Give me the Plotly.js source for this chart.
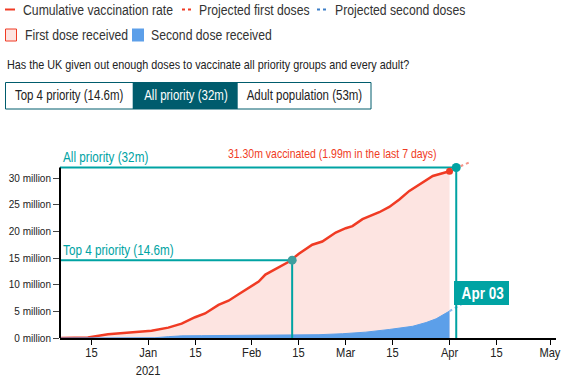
<!DOCTYPE html>
<html><head><meta charset="utf-8">
<script src="https://cdn.plot.ly/plotly-3.0.1.min.js"></script>
<style>html,body{margin:0;padding:0;background:#fff}#chart{width:575px;height:384px}</style>
</head><body><div id="chart"></div>
<script>
// ---- data (millions) ----
const firstDoseDates = ['2020-12-06','2020-12-12','2020-12-14','2020-12-20','2020-12-27','2021-01-02','2021-01-07','2021-01-11','2021-01-15','2021-01-18','2021-01-22','2021-01-25','2021-01-28','2021-01-31','2021-02-03','2021-02-05','2021-02-09','2021-02-12','2021-02-15','2021-02-19','2021-02-22','2021-02-26','2021-03-01','2021-03-03','2021-03-06','2021-03-11','2021-03-14','2021-03-17','2021-03-20','2021-03-23','2021-03-27','2021-04-01'];
const firstDoseValues = [0,0,0.1,0.7,1.0,1.35,1.95,2.7,3.9,4.6,6.2,7.0,8.2,9.4,10.6,11.9,13.3,14.3,15.8,17.5,18.1,19.8,20.6,21.0,22.3,23.6,24.6,26.0,27.6,28.8,30.4,31.3];
const secondDoseDates = ['2020-12-06','2020-12-29','2021-01-03','2021-01-07','2021-01-11','2021-01-17','2021-01-24','2021-01-31','2021-02-07','2021-02-14','2021-02-21','2021-02-28','2021-03-07','2021-03-14','2021-03-21','2021-03-25','2021-03-28','2021-04-01'];
const secondDoseValues = [0,0,0.05,0.25,0.4,0.44,0.47,0.49,0.51,0.54,0.62,0.8,1.1,1.6,2.2,2.9,3.6,5.05];
const projectionDates = ['2021-04-01','2021-04-07'];
const projectedFirstValues = [31.3, 33.0];
const projectedSecondValues = [5.05, 7.2];
const targetLabels = ['Top 4 priority (14.6m)','All priority (32m)'];
const targetValues = [14.6, 32];
const targetDates = ['2021-02-13','2021-04-03'];
const xTickVals = ['2020-12-15','2021-01-01','2021-01-15','2021-02-01','2021-02-15','2021-03-01','2021-03-15','2021-04-01','2021-04-15','2021-05-01'];
const xTickText = ['15','Jan<br>2021','15','Feb','15','Mar','15','Apr','15','May'];
const yTickVals = [0,5,10,15,20,25,30];
const yTickText = ['0 million','5 million','10 million','15 million','20 million','25 million','30 million'];
const legendLabels = ['Cumulative vaccination rate','Projected first doses','Projected second doses','First dose received','Second dose received'];
const buttonLabels = ['Top 4 priority (14.6m)','All priority (32m)','Adult population (53m)'];
const questionText = 'Has the UK given out enough doses to vaccinate all priority groups and every adult?';
const latestText = '31.30m vaccinated (1.99m in the last 7 days)';
const dateLabel = 'Apr 03';

// ---- font: Liberation Sans squeezed horizontally to a narrow width ----
const SX = 0.82;
const FONT = '"Liberation Sans", Arial, sans-serif';
const cv = document.createElement('canvas').getContext('2d');
function measure(size, text, weight) {
  cv.font = (weight || 'normal') + ' ' + size + 'px ' + FONT;
  return cv.measureText(text).width;
}
// one font size for a group of texts, from their total width in the reference
function fitGroup(texts, totalWidth, weight) {
  const w = texts.reduce((s, t) => s + measure(100, t, weight), 0);
  return Math.round(100 * (totalWidth / SX) / w * 10) / 10;
}

// ---- styling ----
const RED = '#f03b24', PINK = '#fde4e1', BLUE = '#5c9fe9', TEAL = '#00a3a3', DARK = '#005c6d';
const W0 = 575, H0 = 384, ML = 60, MR = 19, MT = 160, MB = 46;
const PW = W0 - ML - MR, PH = H0 - MT - MB;
const px = x => (x - ML) / PW;
const py = y => (MT + PH - y) / PH;
const xRange = ['2020-12-05 16:00', '2021-05-02 19:00'];
const lastDate = firstDoseDates[firstDoseDates.length - 1];
const lastVal = firstDoseValues[firstDoseValues.length - 1];

const traces = [
  {x: firstDoseDates, y: firstDoseValues, type: 'scatter', mode: 'lines', fill: 'tozeroy', fillcolor: PINK, line: {color: RED, width: 2.5}, hoverinfo: 'skip'},
  {x: secondDoseDates, y: secondDoseValues, type: 'scatter', mode: 'lines', fill: 'tozeroy', fillcolor: BLUE, line: {color: BLUE, width: 1}, hoverinfo: 'skip'},
  {x: projectionDates, y: projectedFirstValues, type: 'scatter', mode: 'lines', line: {color: '#f5958a', width: 2, dash: 'dot'}},
  {x: projectionDates, y: projectedSecondValues, type: 'scatter', mode: 'lines', line: {color: '#8dbdf0', width: 2, dash: 'dot'}}
];
targetValues.forEach((v, i) => {
  traces.push({x: [xRange[0], targetDates[i], targetDates[i]], y: [v, v, 0], type: 'scatter', mode: 'lines', line: {color: TEAL, width: 2}});
});
traces.push({x: [lastDate], y: [lastVal], type: 'scatter', mode: 'markers', marker: {color: RED, size: 7}, cliponaxis: false});
targetValues.forEach((v, i) => {
  traces.push({x: [targetDates[i]], y: [v], type: 'scatter', mode: 'markers', marker: {color: i === 0 ? '#3f9e9e' : TEAL, size: 9}, cliponaxis: false});
});

const shapes = [
  {type: 'line', xref: 'paper', yref: 'y', x0: 0, x1: 0, y0: 0, y1: targetValues[1], line: {color: '#000', width: 2}},
  {type: 'line', xref: 'paper', yref: 'paper', x0: px(5), x1: px(15), y0: py(9.5), y1: py(9.5), line: {color: RED, width: 2}},
  {type: 'line', xref: 'paper', yref: 'paper', x0: px(182), x1: px(192), y0: py(9.5), y1: py(9.5), line: {color: RED, width: 2, dash: 'dot'}},
  {type: 'line', xref: 'paper', yref: 'paper', x0: px(317), x1: px(328), y0: py(9.5), y1: py(9.5), line: {color: '#3d7fc7', width: 2, dash: 'dot'}},
  {type: 'rect', xref: 'paper', yref: 'paper', x0: px(5.5), x1: px(16.5), y0: py(29), y1: py(41), fillcolor: PINK, line: {color: RED, width: 1}},
  {type: 'rect', xref: 'paper', yref: 'paper', x0: px(132), x1: px(144), y0: py(28.5), y1: py(41.5), fillcolor: BLUE, line: {width: 0}},
  {type: 'rect', xref: 'paper', yref: 'paper', x0: px(132.7), x1: px(237.7), y0: py(82.5), y1: py(109), fillcolor: DARK, line: {width: 0}},
  {type: 'rect', xref: 'paper', yref: 'paper', x0: px(5.5), x1: px(371), y0: py(82.5), y1: py(109), line: {color: DARK, width: 1}},
  {type: 'rect', xref: 'paper', yref: 'paper', x0: px(454), x1: px(509), y0: py(281), y1: py(305), fillcolor: TEAL, line: {width: 0}, layer: 'above'}
];

const legendSize = fitGroup(legendLabels, 153 + 113 + 128.5 + 103 + 118);
const buttonSize = fitGroup(buttonLabels, 108 + 84.5 + 115);
const questionSize = fitGroup([questionText], 403);
const targetSize = fitGroup(targetLabels, 110.5 + 86);
const latestSize = fitGroup([latestText], 209);
const dateSize = fitGroup([dateLabel], 42, 'bold');
const tickSize = fitGroup(['Jan', 'Feb', 'Mar', 'Apr', 'May', '2021'], 18 + 19 + 17 + 17 + 20 + 28.5);

const ann = (text, x, y, size, color, opts) => Object.assign({text, x, y, xref: 'paper', yref: 'paper', showarrow: false, xanchor: 'left', yanchor: 'middle', font: {family: FONT, size: size, color: color}}, opts || {});
const annotations = [
  ann(legendLabels[0], px(21), py(10), legendSize, '#333'),
  ann(legendLabels[1], px(197), py(10), legendSize, '#333'),
  ann(legendLabels[2], px(333), py(10), legendSize, '#333'),
  ann(legendLabels[3], px(22.5), py(35), legendSize, '#333'),
  ann(legendLabels[4], px(149), py(35), legendSize, '#333'),
  ann(questionText, px(5), py(65), questionSize, '#222'),
  ann(buttonLabels[0], px(69), py(95.5), buttonSize, '#222', {xanchor: 'center'}),
  ann(buttonLabels[1], px(185.5), py(95.5), buttonSize, '#fff', {xanchor: 'center'}),
  ann(buttonLabels[2], px(304), py(95.5), buttonSize, '#222', {xanchor: 'center'}),
  ann('<b>' + dateLabel + '</b>', px(482), py(293), dateSize, '#fff', {xanchor: 'center'}),
  ann(targetLabels[0], 0, targetValues[0], targetSize, TEAL, {yref: 'y', yanchor: 'bottom', xshift: 1}),
  ann(targetLabels[1], 0, targetValues[1], targetSize, TEAL, {yref: 'y', yanchor: 'bottom', xshift: 1}),
  ann(latestText, lastDate, targetValues[1], latestSize, RED, {xref: 'x', yref: 'y', xanchor: 'right', yanchor: 'bottom', xshift: -11, yshift: 4})
];
// x tick labels, placed at the axis tick values
xTickVals.forEach((v, i) => {
  annotations.push(ann(xTickText[i], v, 0, tickSize, '#222', {xref: 'x', xanchor: 'center', yanchor: 'top', yshift: -5}));
});

// squeeze annotation text horizontally about its anchor
(function () {
  const origin = {left: '0% 50%', center: '50% 50%', right: '100% 50%'};
  let css = '#chart g.annotation text{transform-box:fill-box;transform:scaleX(' + SX + ')}';
  annotations.forEach((a, i) => {
    css += '#chart g.annotation[data-index="' + i + '"] text{transform-origin:' + origin[a.xanchor] + '}';
  });
  const st = document.createElement('style');
  st.textContent = css;
  document.head.appendChild(st);
})();

const layout = {
  width: W0, height: H0,
  margin: {l: ML, r: MR, t: MT, b: MB, pad: 0},
  paper_bgcolor: '#fff', plot_bgcolor: '#fff',
  showlegend: false,
  xaxis: {type: 'date', range: xRange, tickvals: xTickVals, showticklabels: false, showgrid: false, zeroline: false,
    showline: true, linecolor: '#000', linewidth: 2, ticks: 'outside', ticklen: 5, tickcolor: '#000', tickwidth: 1, fixedrange: true},
  yaxis: {range: [0, 33.4], tickvals: yTickVals, ticktext: yTickText, showgrid: false, zeroline: false, showline: false,
    ticks: 'outside', ticklen: 6, tickcolor: '#444', tickwidth: 1,
    tickfont: {family: FONT, size: 10, color: '#222'}, fixedrange: true},
  shapes, annotations
};
Plotly.newPlot('chart', traces, layout, {displayModeBar: false, staticPlot: true});
</script></body></html>
